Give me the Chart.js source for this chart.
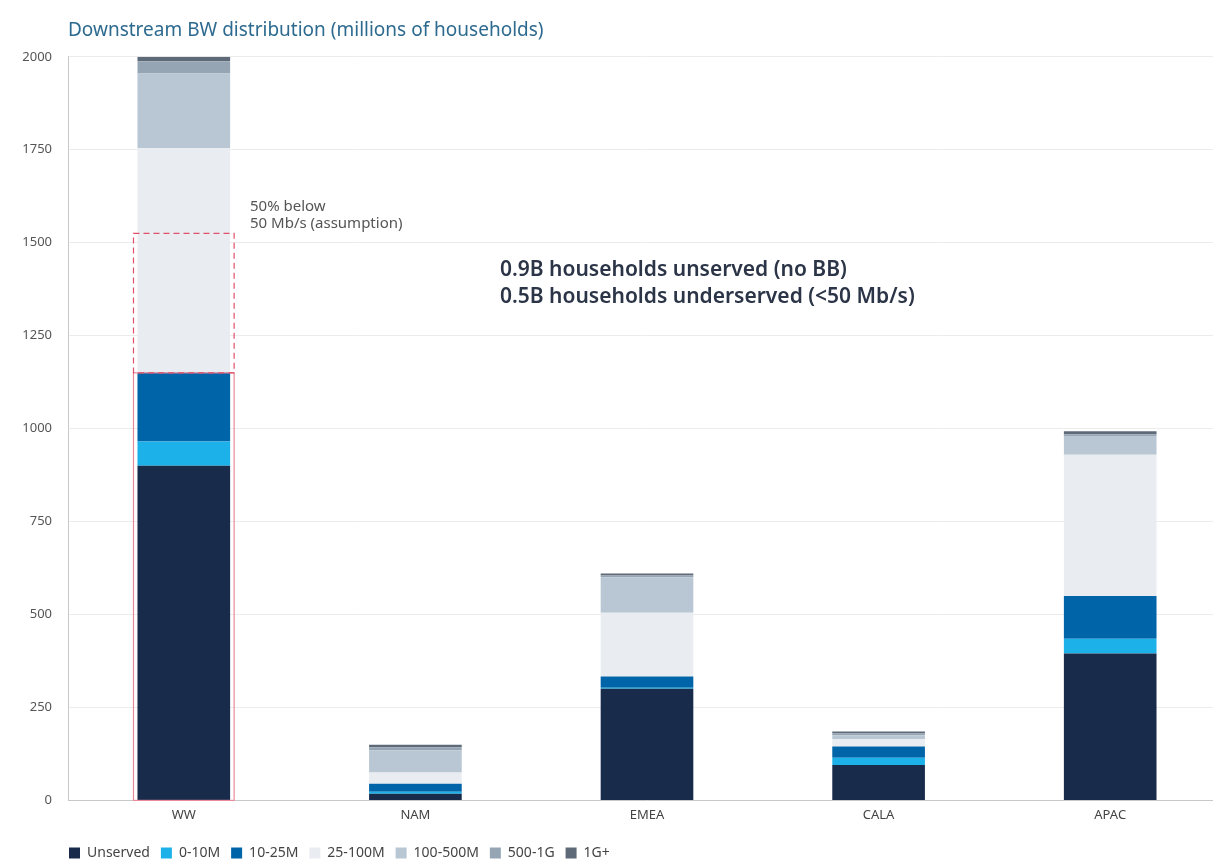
<!DOCTYPE html>
<html>
<head>
<meta charset="utf-8">
<script src="https://cdn.jsdelivr.net/npm/chart.js@4.4.1/dist/chart.umd.min.js"></script>
<style>
  html, body { margin: 0; padding: 0; background: #fff; overflow: hidden; }
  #wrap { position: relative; width: 1226px; height: 862px; }
</style>
</head>
<body>
<div id="wrap"><canvas id="bwChart"></canvas></div>
<script>
// Downstream BW distribution - stacked bars
const categories = ['WW', 'NAM', 'EMEA', 'CALA', 'APAC'];
const seriesNames = ['Unserved', '0-10M', '10-25M', '25-100M', '100-500M', '500-1G', '1G+'];
const unserved   = [900, 18, 300, 95, 395];
const bw0to10    = [65, 5, 3, 20, 40];
const bw10to25   = [185, 22, 30, 30, 115];
const bw25to100  = [605, 30, 172, 20, 380];
const bw100to500 = [200, 60, 95, 10, 50];
const bw500to1g  = [33, 8, 5, 5, 5];
const bw1gPlus   = [12, 7, 5, 5, 8];

// highlighted WW ranges (millions of households)
const underservedBox = [1150, 1525];
const lowBwBox = [0, 1150];
const noteLines = ['50% below', '50 Mb/s (assumption)'];
const calloutLines = ['0.9B households unserved (no BB)', '0.5B households underserved (<50 Mb/s)'];

const seriesValues = [unserved, bw0to10, bw10to25, bw25to100, bw100to500, bw500to1g, bw1gPlus];
const colors = ['#182b4b', '#1db1ea', '#0064a8', '#e9ecf0', '#b9c6d3', '#96a5b4', '#5e6a78'];

const FONT = "'Noto Sans', 'Open Sans', sans-serif";

const boxesPlugin = {
    id: 'boxes',
    afterLayout(chart) {
        // legend starts flush with the axis, close to the bottom edge
        const lg = chart.legend;
        if (lg) {
            lg.left = chart.chartArea.left - 10;
            lg.top += 5;
            lg.bottom += 5;
        }
    },
    afterDatasetsDraw(chart) {
        const ctx = chart.ctx;
        const y = chart.scales.y;
        const bar = chart.getDatasetMeta(0).data[0];
        const left = bar.x - bar.width / 2 - 4;
        const right = bar.x + bar.width / 2 + 4;

        ctx.save();
        // solid frame round the low-bandwidth part
        ctx.strokeStyle = '#e98a9c';
        ctx.lineWidth = 1.2;
        ctx.strokeRect(left, y.getPixelForValue(lowBwBox[1]), right - left,
            y.getPixelForValue(lowBwBox[0]) - y.getPixelForValue(lowBwBox[1]));

        // dashed frame for the assumed underserved half
        ctx.strokeStyle = '#e0506a';
        ctx.setLineDash([6, 4]);
        ctx.strokeRect(left, y.getPixelForValue(underservedBox[1]), right - left,
            y.getPixelForValue(underservedBox[0]) - y.getPixelForValue(underservedBox[1]));
        ctx.setLineDash([]);

        // note next to the WW bar
        ctx.fillStyle = '#555';
        ctx.font = '15px ' + FONT;
        ctx.textBaseline = 'middle';
        ctx.textAlign = 'left';
        ctx.fillText(noteLines[0], 250, 207);
        ctx.fillText(noteLines[1], 250, 224);

        // main call-out
        ctx.fillStyle = '#2b3547';
        ctx.font = '600 21px ' + FONT;
        ctx.fillText(calloutLines[0], 500, 270);
        ctx.fillText(calloutLines[1], 500, 297);
        ctx.restore();
    }
};

new Chart(document.getElementById('bwChart'), {
    type: 'bar',
    data: {
        labels: categories,
        datasets: seriesNames.map((name, i) => ({
            label: name,
            data: seriesValues[i],
            backgroundColor: colors[i],
            borderWidth: 0,
            categoryPercentage: 1,
            barPercentage: 0.4
        }))
    },
    options: {
        responsive: true,
        maintainAspectRatio: false,
        animation: false,
        layout: { padding: { left: 0, right: 0, top: 0, bottom: -3 } },
        plugins: {
            title: {
                display: true,
                text: 'Downstream BW distribution (millions of households)',
                align: 'start',
                fullSize: false,
                color: '#2d6a8f',
                font: { family: FONT, size: 19, weight: 'normal' },
                padding: { top: 19, bottom: 15 }
            },
            legend: {
                position: 'bottom',
                align: 'start',
                fullSize: false,
                labels: {
                    color: '#444',
                    boxWidth: 11,
                    boxHeight: 11,
                    padding: 11,
                    font: { family: FONT, size: 14 }
                }
            },
            tooltip: { enabled: false }
        },
        scales: {
            x: {
                stacked: true,
                grid: { display: false, drawTicks: false },
                border: { color: '#c8c8c8' },
                ticks: { color: '#444', padding: 7, font: { family: FONT, size: 13 } }
            },
            y: {
                stacked: true,
                min: 0,
                max: 2000,
                afterFit(scale) { scale.width = 68; },
                grid: { color: '#ececec', drawTicks: false },
                border: { color: '#c8c8c8' },
                ticks: {
                    stepSize: 250,
                    color: '#555',
                    padding: 16,
                    font: { family: FONT, size: 13 },
                    callback: v => String(v)
                }
            }
        }
    },
    plugins: [boxesPlugin]
});
</script>
</body>
</html>
